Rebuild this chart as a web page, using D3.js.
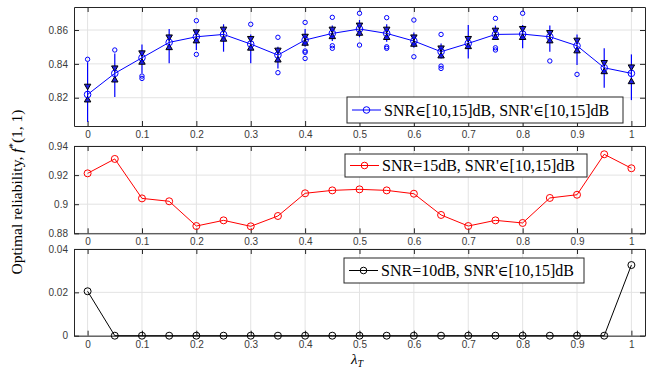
<!DOCTYPE html>
<html><head><meta charset="utf-8">
<script src="https://cdn.jsdelivr.net/npm/d3@7"></script>
<style>body{margin:0;background:#fff}svg{display:block}</style>
</head><body><div id="chart"></div>
<script>
const lambda = [0,0.05,0.1,0.15,0.2,0.25,0.3,0.35,0.4,0.45,0.5,0.55,0.6,0.65,0.7,0.75,0.8,0.85,0.9,0.95,1];
const meanRel = [0.8219,0.8344,0.8436,0.8527,0.8560,0.8574,0.8517,0.8452,0.8541,0.8580,0.8606,0.8580,0.8535,0.8472,0.8521,0.8574,0.8576,0.8560,0.8507,0.8377,0.8344];
const ciHigh = [0.8269,0.8377,0.8466,0.8560,0.8590,0.8606,0.8551,0.8482,0.8564,0.8606,0.8630,0.8606,0.8560,0.8495,0.8551,0.8600,0.8610,0.8586,0.8541,0.8409,0.8383];
const ciLow = [0.8186,0.8304,0.8409,0.8495,0.8535,0.8545,0.8492,0.8422,0.8521,0.8560,0.8580,0.8555,0.8515,0.8446,0.8501,0.8555,0.8555,0.8535,0.8476,0.8353,0.8294];
const whiskHigh = [0.8410,0.8462,0.8515,0.8606,0.8600,0.8634,0.8574,0.8501,0.8606,0.8626,0.8659,0.8634,0.8586,0.8521,0.8630,0.8626,0.8630,0.8626,0.8574,0.8492,0.8456];
const whiskLow = [0.8057,0.8205,0.8344,0.8403,0.8482,0.8472,0.8403,0.8373,0.8501,0.8535,0.8557,0.8531,0.8495,0.8432,0.8432,0.8541,0.8492,0.8472,0.8393,0.8259,0.8186];
const outlierX = [0,0.05,0.1,0.1,0.2,0.2,0.3,0.35,0.35,0.4,0.4,0.4,0.4,0.45,0.45,0.45,0.5,0.5,0.55,0.55,0.55,0.6,0.6,0.65,0.65,0.65,0.75,0.75,0.75,0.8,0.85,0.9];
const outlierY = [0.8427,0.8482,0.8328,0.8314,0.8655,0.8456,0.8634,0.8557,0.8348,0.8645,0.8476,0.8468,0.8432,0.8675,0.8507,0.8492,0.8699,0.8511,0.8673,0.8501,0.8492,0.8659,0.8442,0.8574,0.8387,0.8373,0.8669,0.8495,0.8482,0.8699,0.8417,0.8338];
const snr15 = [0.9212,0.9311,0.9040,0.9020,0.8850,0.8889,0.8848,0.8919,0.9075,0.9095,0.9102,0.9095,0.9072,0.8926,0.8850,0.8889,0.8871,0.9043,0.9065,0.9343,0.9247];
const snr10 = [0.0205,0,0,0,0,0,0,0,0,0,0,0,0,0,0,0,0,0,0,0,0.0326];
const xTicks = [0,0.1,0.2,0.3,0.4,0.5,0.6,0.7,0.8,0.9,1];
const yTicksTop = [0.82,0.84,0.86];
const yTicksMid = [0.88,0.9,0.92,0.94];
const yTicksBot = [0,0.02,0.04];
const legendTop = ["SNR", "\u2208", "[10,15]dB, SNR'", "\u2208", "[10,15]dB"];
const legendMid = ["SNR=15dB, SNR'", "\u2208", "[10,15]dB"];
const legendBot = ["SNR=10dB, SNR'", "\u2208", "[10,15]dB"];

const W = 660, H = 370;
const svg = d3.select("#chart").append("svg").attr("width", W).attr("height", H);
const L = 74, R = 645;
const x = d3.scaleLinear().domain([-0.025, 1.025]).range([L, R]);
const axisCol = "#262626", gridCol = "#e3e3e3";
const tickFont = "'Liberation Sans', Arial, sans-serif";
const serif = "'Liberation Serif', 'Times New Roman', serif";

function panel(y0, y1, ydom, yt, fmt) {
  const y = d3.scaleLinear().domain(ydom).range([y1, y0]);
  const g = svg.append("g");
  g.selectAll(".gx").data(xTicks).enter().append("line")
    .attr("x1", d => x(d)).attr("x2", d => x(d)).attr("y1", y0).attr("y2", y1)
    .attr("stroke", gridCol).attr("stroke-width", 1);
  g.selectAll(".gy").data(yt).enter().append("line")
    .attr("x1", L).attr("x2", R).attr("y1", d => y(d)).attr("y2", d => y(d))
    .attr("stroke", gridCol).attr("stroke-width", 1);
  const ax = d3.axisBottom(x).tickValues(xTicks).tickSizeInner(-5).tickSizeOuter(0).tickPadding(5).tickFormat(d3.format("~g"));
  const gx = g.append("g").attr("transform", `translate(0,${y1})`).call(ax);
  const axT = d3.axisTop(x).tickValues(xTicks).tickSizeInner(-5).tickSizeOuter(0).tickFormat("");
  const gxt = g.append("g").attr("transform", `translate(0,${y0})`).call(axT);
  const ay = d3.axisLeft(y).tickValues(yt).tickSizeInner(-5).tickSizeOuter(0).tickPadding(6).tickFormat(fmt);
  const gy = g.append("g").attr("transform", `translate(${L},0)`).call(ay);
  const ayr = d3.axisRight(y).tickValues(yt).tickSizeInner(-5).tickSizeOuter(0).tickFormat("");
  const gyr = g.append("g").attr("transform", `translate(${R},0)`).call(ayr);
  [gx, gxt, gy, gyr].forEach(a => {
    a.select(".domain").attr("stroke", axisCol).attr("stroke-width", 1);
    a.selectAll(".tick line").attr("stroke", axisCol);
    a.selectAll("text").attr("fill", "#3a3a3a").style("font-family", tickFont).style("font-size", "10px");
  });
  return {g, y};
}

function legend(g, bx, by, bw, bh, parts, color) {
  g.append("rect").attr("x", bx).attr("y", by).attr("width", bw).attr("height", bh)
    .attr("fill", "#fff").attr("stroke", axisCol).attr("stroke-width", 1);
  g.append("line").attr("x1", bx + 5).attr("x2", bx + 34).attr("y1", by + bh/2).attr("y2", by + bh/2)
    .attr("stroke", color).attr("stroke-width", 1);
  g.append("circle").attr("cx", bx + 19.5).attr("cy", by + bh/2).attr("r", 3.3)
    .attr("fill", "none").attr("stroke", color).attr("stroke-width", 1);
  const t = g.append("text").attr("x", bx + 37).attr("y", by + bh/2 + 5.5)
    .style("font-family", serif).style("font-size", "16px").attr("fill", "#000");
  parts.forEach(p => {
    const s = t.append("tspan").text(p);
    if (p === "\u2208") s.style("font-family", "'DejaVu Serif', serif").style("font-size", "14.5px");
  });
}

// ---- Top panel
const P1 = panel(7, 126, [0.8033, 0.8736], yTicksTop, d3.format(".2f"));
const tri = d3.symbol().type(d3.symbolTriangle).size(18);
P1.g.selectAll(".wh").data(lambda).enter().append("line")
  .attr("x1", d => x(d)).attr("x2", d => x(d))
  .attr("y1", (d, i) => P1.y(whiskLow[i])).attr("y2", (d, i) => P1.y(whiskHigh[i]))
  .attr("stroke", "#0000ff").attr("stroke-width", 1.2);
P1.g.selectAll(".ol").data(outlierX).enter().append("circle")
  .attr("cx", d => x(d)).attr("cy", (d, i) => P1.y(outlierY[i])).attr("r", 2.2)
  .attr("fill", "none").attr("stroke", "#0000ff").attr("stroke-width", 1);
P1.g.append("path").datum(lambda)
  .attr("d", d3.line().x(d => x(d)).y((d, i) => P1.y(meanRel[i])))
  .attr("fill", "none").attr("stroke", "#0000ff").attr("stroke-width", 1);
P1.g.selectAll(".th").data(lambda).enter().append("path")
  .attr("d", tri).attr("transform", (d, i) => `translate(${x(d)},${P1.y(ciHigh[i])}) rotate(180)`)
  .attr("fill", "#2020e0").attr("stroke", "#000").attr("stroke-width", 1);
P1.g.selectAll(".tl").data(lambda).enter().append("path")
  .attr("d", tri).attr("transform", (d, i) => `translate(${x(d)},${P1.y(ciLow[i])})`)
  .attr("fill", "#2020e0").attr("stroke", "#000").attr("stroke-width", 1);
P1.g.selectAll(".mc").data(lambda).enter().append("circle")
  .attr("cx", d => x(d)).attr("cy", (d, i) => P1.y(meanRel[i])).attr("r", 3.3)
  .attr("fill", "none").attr("stroke", "#0000ff").attr("stroke-width", 1);
legend(P1.g, 347, 97, 276, 26, legendTop, "#0000ff");

// ---- Middle panel
const P2 = panel(146, 233.3, [0.88, 0.94], yTicksMid, d3.format("~g"));
P2.g.append("path").datum(lambda)
  .attr("d", d3.line().x(d => x(d)).y((d, i) => P2.y(snr15[i])))
  .attr("fill", "none").attr("stroke", "#ff0000").attr("stroke-width", 1);
P2.g.selectAll(".rc").data(lambda).enter().append("circle")
  .attr("cx", d => x(d)).attr("cy", (d, i) => P2.y(snr15[i])).attr("r", 3.5)
  .attr("fill", "none").attr("stroke", "#ff0000").attr("stroke-width", 1);
legend(P2.g, 345, 154, 242, 23, legendMid, "#ff0000");

// ---- Bottom panel
const P3 = panel(249, 335.7, [0, 0.04], yTicksBot, d3.format("~g"));
P3.g.append("path").datum(lambda)
  .attr("d", d3.line().x(d => x(d)).y((d, i) => P3.y(snr10[i])))
  .attr("fill", "none").attr("stroke", "#000").attr("stroke-width", 1);
P3.g.selectAll(".kc").data(lambda).enter().append("circle")
  .attr("cx", d => x(d)).attr("cy", (d, i) => P3.y(snr10[i])).attr("r", 3.5)
  .attr("fill", "none").attr("stroke", "#000").attr("stroke-width", 1);
legend(P3.g, 344, 258, 240, 25, legendBot, "#000");

// ---- axis labels
const xl = svg.append("text").attr("x", 357).attr("y", 364).attr("text-anchor", "middle")
  .style("font-family", serif).style("font-size", "15px");
xl.append("tspan").attr("font-style", "italic").text("\u03bb");
xl.append("tspan").attr("font-style", "italic").attr("dy", 3).style("font-size", "10px").text("T");

const yl = svg.append("text").attr("transform", "translate(22,192) rotate(-90)").attr("text-anchor", "middle")
  .style("font-family", serif).style("font-size", "15.5px");
yl.append("tspan").text("Optimal reliability, ");
yl.append("tspan").attr("font-style", "italic").text("f");
yl.append("tspan").attr("dy", -6).style("font-size", "11px").text("*");
yl.append("tspan").attr("dy", 6).text("(1, 1)");
</script></body></html>
